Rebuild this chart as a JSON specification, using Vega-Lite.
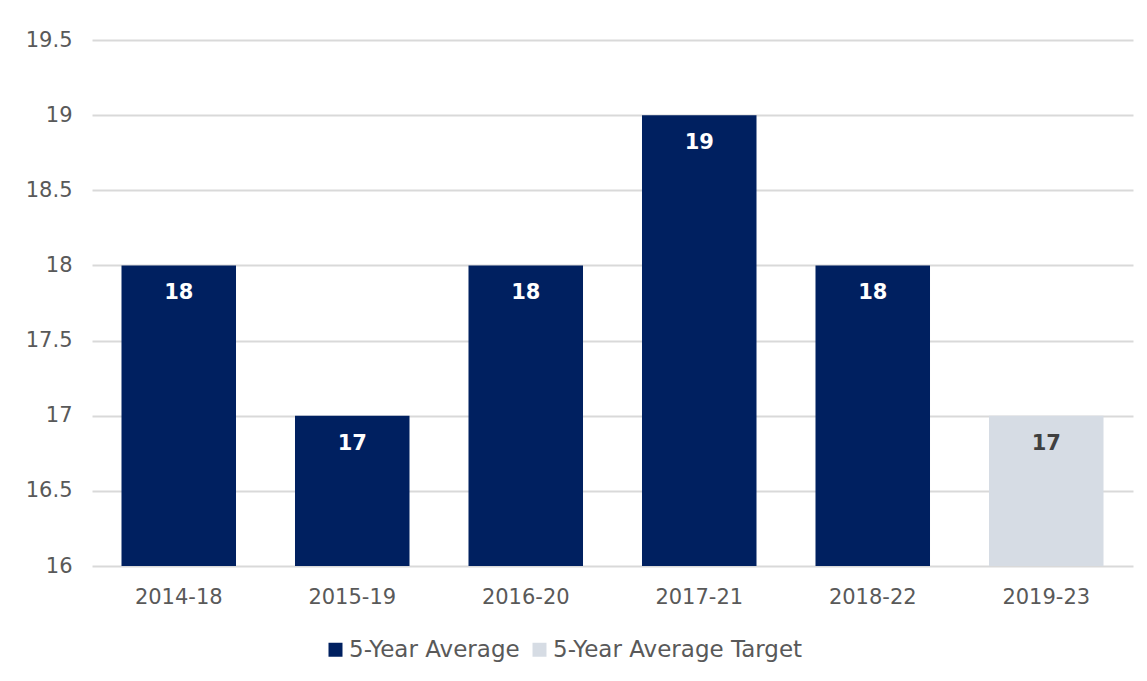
{
  "$schema": "https://vega.github.io/schema/vega-lite/v6.json",
  "autosize": "none",
  "width": 1041,
  "height": 526,
  "padding": {"left": 92, "top": 40, "right": 14, "bottom": 115},
  "background": "white",
  "config": {
    "view": {"stroke": null},
    "font": "DejaVu Sans"
  },
  "data": {
    "values": [
      {"period": "2014-18", "value": 18, "series": "5-Year Average"},
      {"period": "2015-19", "value": 17, "series": "5-Year Average"},
      {"period": "2016-20", "value": 18, "series": "5-Year Average"},
      {"period": "2017-21", "value": 19, "series": "5-Year Average"},
      {"period": "2018-22", "value": 18, "series": "5-Year Average"},
      {"period": "2019-23", "value": 17, "series": "5-Year Average Target"}
    ]
  },
  "encoding": {
    "x": {
      "field": "period",
      "type": "nominal",
      "sort": null,
      "scale": {"paddingInner": 0.34, "paddingOuter": 0.17},
      "axis": {
        "title": null,
        "labelAngle": 0,
        "labelFont": "DejaVu Sans",
        "labelFontSize": 21,
        "labelColor": "#595959",
        "labelPadding": 20,
        "ticks": false,
        "domain": false
      }
    },
    "y": {
      "field": "value",
      "type": "quantitative",
      "scale": {"domain": [16, 19.5], "zero": false, "nice": false},
      "axis": {
        "title": null,
        "values": [16, 16.5, 17, 17.5, 18, 18.5, 19, 19.5],
        "format": "~g",
        "labelFont": "DejaVu Sans",
        "labelFontSize": 21,
        "labelColor": "#595959",
        "labelPadding": 20,
        "ticks": false,
        "domain": false,
        "gridColor": "#d9d9d9",
        "gridWidth": 2
      }
    }
  },
  "layer": [
    {
      "mark": {"type": "bar", "clip": true},
      "encoding": {
        "y2": {"datum": 16},
        "color": {
          "field": "series",
          "type": "nominal",
          "scale": {
            "domain": ["5-Year Average", "5-Year Average Target"],
            "range": ["#002060", "#d6dce4"]
          },
          "legend": {
            "title": null,
            "orient": "none",
            "legendX": 232,
            "legendY": 598,
            "direction": "horizontal",
            "symbolType": "square",
            "symbolSize": 196,
            "symbolStrokeWidth": 0,
            "labelFont": "DejaVu Sans",
            "labelFontSize": 23,
            "labelColor": "#595959",
            "labelOffset": 2,
            "labelLimit": 400,
            "columnPadding": 8
          }
        }
      }
    },
    {
      "mark": {
        "type": "text",
        "baseline": "middle",
        "align": "center",
        "dy": 28,
        "font": "DejaVu Sans",
        "fontSize": 21,
        "fontWeight": "bold"
      },
      "encoding": {
        "text": {"field": "value", "type": "quantitative"},
        "color": {
          "condition": {"test": "datum.series === '5-Year Average'", "value": "#ffffff"},
          "value": "#404040"
        }
      }
    }
  ]
}
